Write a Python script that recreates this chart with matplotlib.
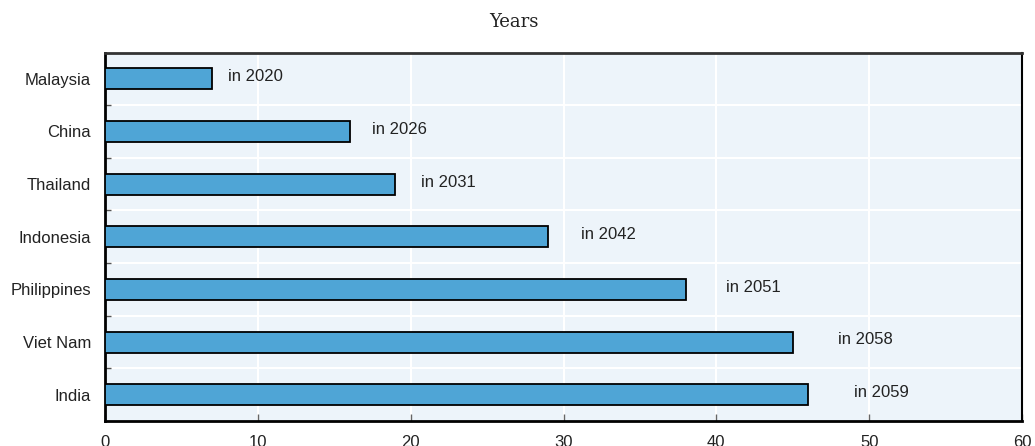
import numpy as np
import matplotlib.pyplot as plt
from matplotlib.ticker import FixedLocator

countries = ["Malaysia", "China", "Thailand", "Indonesia", "Philippines", "Viet Nam", "India"]
years_needed = [7, 16, 19, 29, 38, 45, 46]
reach_year = ["in 2020", "in 2026", "in 2031", "in 2042", "in 2051", "in 2058", "in 2059"]
x_ticks = [0, 10, 20, 30, 40, 50, 60]

bar_color = "#4fa5d6"
panel_bg = "#edf4fa"

plt.rcParams["font.family"] = ["Liberation Sans", "DejaVu Sans"]

fig = plt.figure(figsize=(10.35, 4.46), dpi=100)
ax = fig.add_axes([105 / 1035, 25 / 446, 917 / 1035, 368.5 / 446])
ax.set_facecolor(panel_bg)

# first country on top
ypos = np.arange(len(countries))[::-1]
ax.barh(ypos, years_needed, height=0.4, color=bar_color,
        edgecolor="black", linewidth=1.3, zorder=3)

for y, v, lab in zip(ypos, years_needed, reach_year):
    ax.text(v * 1.05 + 0.7, y + 0.04, lab, va="center", ha="left",
            fontsize=12, color="#222222", zorder=4)

ax.set_xlim(0, 60)
ax.set_ylim(-0.5, len(countries) - 0.5)
ax.set_xticks(x_ticks)
ax.set_yticks(ypos)
ax.set_yticklabels(countries)
ax.yaxis.set_minor_locator(FixedLocator(np.arange(0.5, len(countries) - 1, 1.0)))

ax.tick_params(axis="x", direction="in", length=5, width=1, color="#666666",
               labelsize=12, pad=10, labelcolor="#222222")
ax.tick_params(axis="y", which="major", length=0, labelsize=12, pad=10,
               labelcolor="#222222")
ax.tick_params(axis="y", which="minor", direction="in", length=4, width=1,
               color="#555555")

ax.grid(axis="x", which="major", color="white", linewidth=1.5, zorder=0)
ax.grid(axis="y", which="minor", color="white", linewidth=1.5, zorder=0)
ax.set_axisbelow(True)

for side in ["left", "bottom"]:
    ax.spines[side].set_linewidth(2)
    ax.spines[side].set_color("black")
ax.spines["top"].set_linewidth(2)
ax.spines["top"].set_color("#333333")
ax.spines["right"].set_linewidth(1.5)
ax.spines["right"].set_color("black")

fig.text(514 / 1035, 1 - 22 / 446, "Years", ha="center", va="center",
         fontsize=13, family="DejaVu Serif", color="#222222")

fig.savefig("out.png", dpi=100)
